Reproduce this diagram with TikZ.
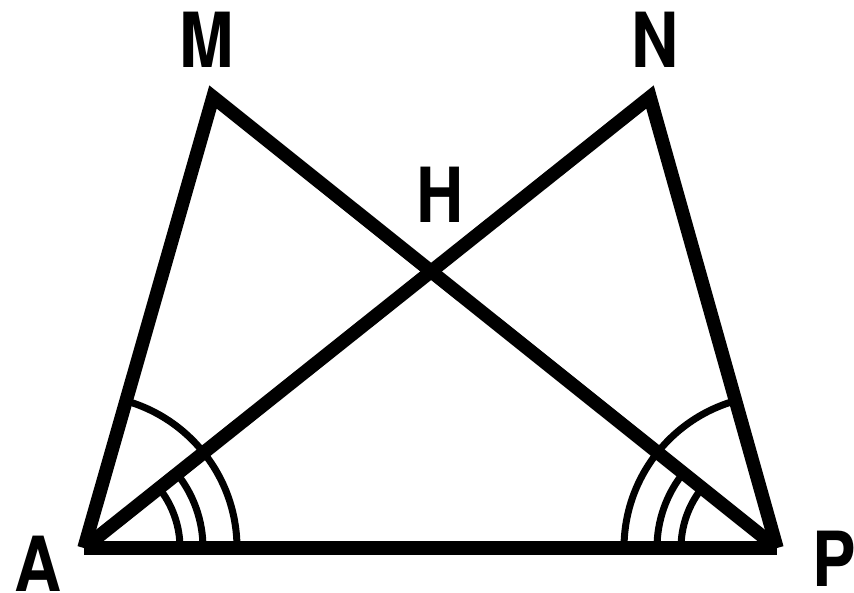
\documentclass[tikz,border=0pt]{standalone}
\usetikzlibrary{calc}
\usepackage{fontspec}
\setmainfont{TeX Gyre Heros}
\begin{document}
\begin{tikzpicture}[x=1pt,y=-1pt,
  seg/.style={line width=13.5pt,line join=miter,miter limit=20},
  arcmark/.style={line width=7pt},
  lbl/.style={font=\fontsize{76}{76}\selectfont\bfseries,inner sep=0pt,anchor=center,xscale=0.86}]
\useasboundingbox (0,0) rectangle (854,593);
\coordinate (A) at (84,548);
\coordinate (P) at (777,548);
\coordinate (M) at (213,97);
\coordinate (N) at (650,97);
\draw[seg] (A) -- (M) -- (P);
\draw[seg] (A) -- (N) -- (P);
\draw[seg] (A) -- (P);
% angle marks at A
\draw[arcmark] ($(A)+(96,0)$) arc[start angle=0,end angle=-38.7,radius=96];
\draw[arcmark] ($(A)+(119,0)$) arc[start angle=0,end angle=-38.7,radius=119];
\draw[arcmark] ($(A)+(153,0)$) arc[start angle=0,end angle=-74,radius=153];
% angle marks at P
\draw[arcmark] ($(P)+(-96,0)$) arc[start angle=180,end angle=218.8,radius=96];
\draw[arcmark] ($(P)+(-120,0)$) arc[start angle=180,end angle=218.8,radius=120];
\draw[arcmark] ($(P)+(-153,0)$) arc[start angle=180,end angle=254.3,radius=153];
\node[lbl] (lM) at (207,40) {M};
\node[lbl] (lN) at (655,40) {N};
\node[lbl] (lH) at (440,195) {H};
\node[lbl] (lA) at (38,564) {A};
\node[lbl] (lP) at (834,559) {P};
\end{tikzpicture}
\end{document}
